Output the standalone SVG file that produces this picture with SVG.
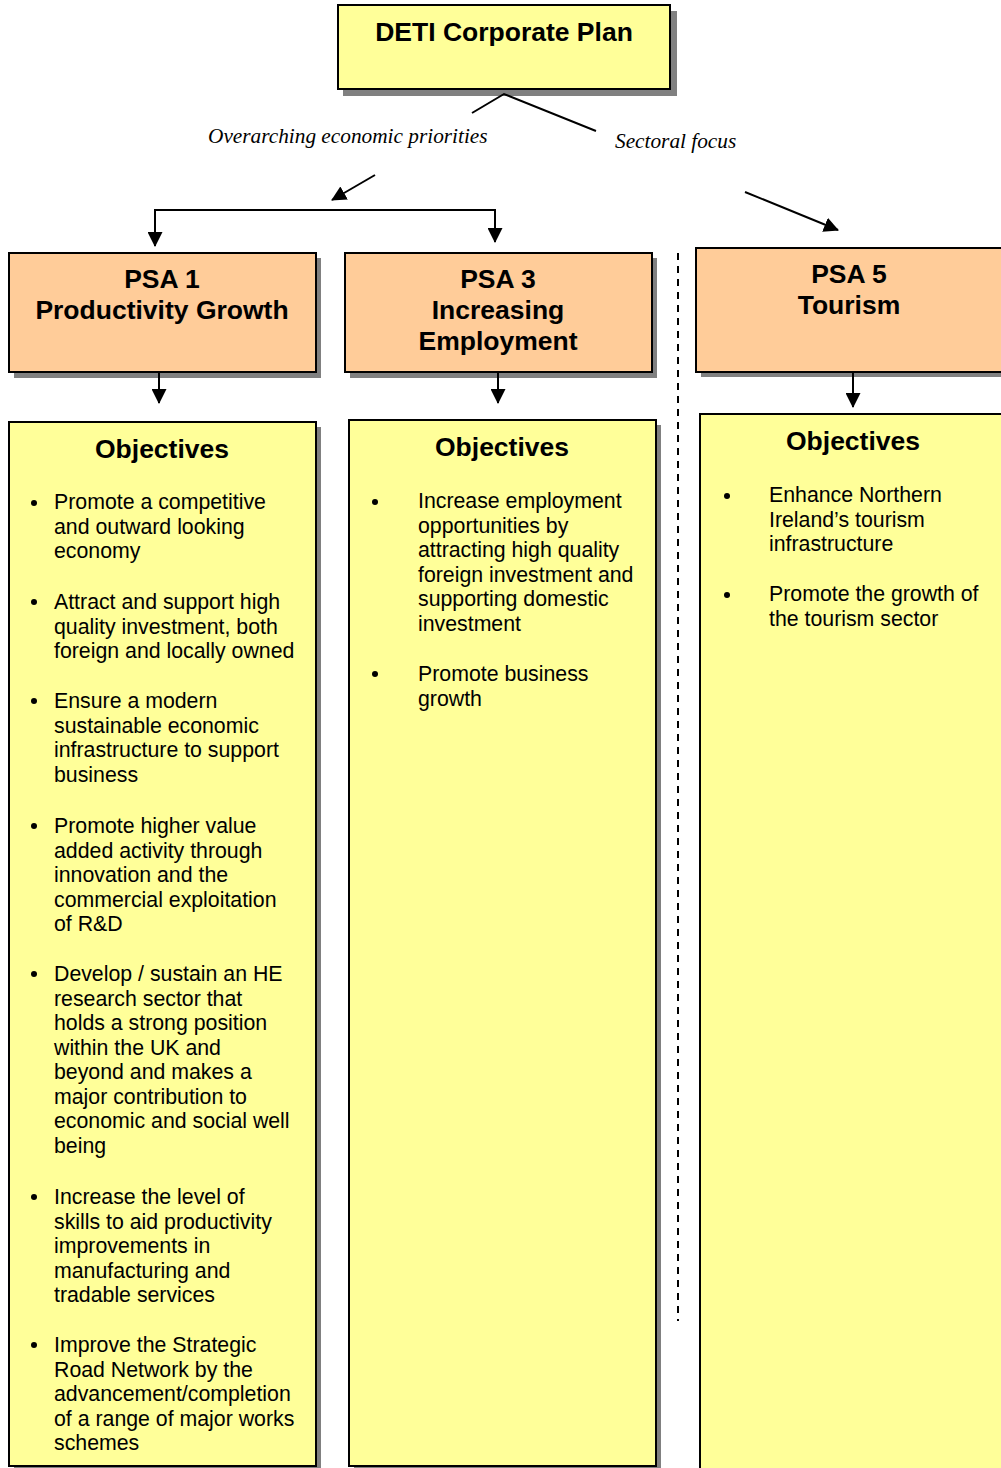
<svg xmlns="http://www.w3.org/2000/svg" width="1001" height="1468" viewBox="0 0 1001 1468">
<style>
.sh{fill:#808080}
.box{stroke:#000;stroke-width:2}
.y{fill:#FFFF99}
.o{fill:#FFCC99}
.t{font-family:"Liberation Sans",Arial,sans-serif;font-weight:bold;font-size:26.5px;text-anchor:middle;fill:#000}
.b{font-family:"Liberation Sans",Arial,sans-serif;font-size:21.3px;fill:#000}
.i{font-family:"Liberation Serif","Times New Roman",serif;font-style:italic;font-size:21.3px;fill:#000}
.ln{stroke:#000;stroke-width:2;fill:none}
.dot{fill:#000}
</style>
<defs>
<marker id="ah" markerWidth="15" markerHeight="15" refX="14" refY="7.5" orient="auto" markerUnits="userSpaceOnUse" viewBox="0 0 15 15">
<path d="M0,0 L15,7.5 L0,15 Z" fill="#000"/>
</marker>
</defs>
<rect width="1001" height="1468" fill="#fff"/>

<g id="deti">
<rect class="sh" x="343" y="11" width="334" height="85"/>
<rect class="box y" x="338" y="5" width="332" height="84"/>
<text class="t" x="504" y="41">DETI Corporate Plan</text>
</g>

<g id="label-overarching">
<text class="i" x="208" y="143">Overarching economic priorities</text>
</g>
<g id="label-sectoral">
<text class="i" x="615" y="148">Sectoral focus</text>
</g>

<g id="psa1">
<rect class="sh" x="14" y="258" width="307" height="120"/>
<rect class="box o" x="9" y="253" width="307" height="119"/>
<text class="t" x="162" y="288">PSA 1</text>
<text class="t" x="162" y="319">Productivity Growth</text>
</g>

<g id="psa3">
<rect class="sh" x="350" y="258" width="307" height="120"/>
<rect class="box o" x="345" y="253" width="307" height="119"/>
<text class="t" x="498" y="288">PSA 3</text>
<text class="t" x="498" y="319">Increasing</text>
<text class="t" x="498" y="350">Employment</text>
</g>

<g id="psa5">
<rect class="sh" x="701" y="253" width="320" height="124"/>
<rect class="box o" x="696" y="248" width="320" height="124"/>
<text class="t" x="849" y="283">PSA 5</text>
<text class="t" x="849" y="314">Tourism</text>
</g>

<g id="obj1">
<rect class="sh" x="14" y="427" width="307" height="1060"/>
<rect class="box y" x="9" y="422" width="307" height="1044"/>
<text class="t" x="162" y="458">Objectives</text>
<g class="b">
<circle class="dot" cx="34" cy="503" r="3"/>
<text x="54" y="509">Promote a competitive</text>
<text x="54" y="533.5">and outward looking</text>
<text x="54" y="558">economy</text>
<circle class="dot" cx="34" cy="602" r="3"/>
<text x="54" y="609">Attract and support high</text>
<text x="54" y="633.5">quality investment, both</text>
<text x="54" y="658">foreign and locally owned</text>
<circle class="dot" cx="34" cy="701" r="3"/>
<text x="54" y="708">Ensure a modern</text>
<text x="54" y="732.5">sustainable economic</text>
<text x="54" y="757">infrastructure to support</text>
<text x="54" y="781.5">business</text>
<circle class="dot" cx="34" cy="826" r="3"/>
<text x="54" y="833">Promote higher value</text>
<text x="54" y="857.5">added activity through</text>
<text x="54" y="882">innovation and the</text>
<text x="54" y="906.5">commercial exploitation</text>
<text x="54" y="931">of R&amp;D</text>
<circle class="dot" cx="34" cy="974" r="3"/>
<text x="54" y="981">Develop / sustain an HE</text>
<text x="54" y="1005.5">research sector that</text>
<text x="54" y="1030">holds a strong position</text>
<text x="54" y="1054.5">within the UK and</text>
<text x="54" y="1079">beyond and makes a</text>
<text x="54" y="1103.5">major contribution to</text>
<text x="54" y="1128">economic and social well</text>
<text x="54" y="1152.5">being</text>
<circle class="dot" cx="34" cy="1197" r="3"/>
<text x="54" y="1204">Increase the level of</text>
<text x="54" y="1228.5">skills to aid productivity</text>
<text x="54" y="1253">improvements in</text>
<text x="54" y="1277.5">manufacturing and</text>
<text x="54" y="1302">tradable services</text>
<circle class="dot" cx="34" cy="1345" r="3"/>
<text x="54" y="1352">Improve the Strategic</text>
<text x="54" y="1376.5">Road Network by the</text>
<text x="54" y="1401">advancement/completion</text>
<text x="54" y="1425.5">of a range of major works</text>
<text x="54" y="1450">schemes</text>
</g>
</g>

<g id="obj3">
<rect class="sh" x="354" y="425" width="307" height="1060"/>
<rect class="box y" x="349" y="420" width="307" height="1046"/>
<text class="t" x="502" y="456">Objectives</text>
<g class="b">
<circle class="dot" cx="375" cy="502" r="3"/>
<text x="418" y="508">Increase employment</text>
<text x="418" y="532.5">opportunities by</text>
<text x="418" y="557">attracting high quality</text>
<text x="418" y="581.5">foreign investment and</text>
<text x="418" y="606">supporting domestic</text>
<text x="418" y="630.5">investment</text>
<circle class="dot" cx="375" cy="674" r="3"/>
<text x="418" y="681">Promote business</text>
<text x="418" y="705.5">growth</text>
</g>
</g>

<g id="obj5">
<rect class="sh" x="705" y="419" width="320" height="1060"/>
<rect class="box y" x="700" y="414" width="320" height="1070"/>
<text class="t" x="853" y="450">Objectives</text>
<g class="b">
<circle class="dot" cx="727" cy="496" r="3"/>
<text x="769" y="502">Enhance Northern</text>
<text x="769" y="526.5">Ireland’s tourism</text>
<text x="769" y="551">infrastructure</text>
<circle class="dot" cx="727" cy="595" r="3"/>
<text x="769" y="601">Promote the growth of</text>
<text x="769" y="625.5">the tourism sector</text>
</g>
</g>

<g id="connectors">
<polyline class="ln" points="472,113 504,94 596,131"/>
<line class="ln" x1="375" y1="175" x2="332" y2="200" marker-end="url(#ah)"/>
<polyline class="ln" points="155,246 155,210 495,210 495,242" marker-end="url(#ah)"/>
<line class="ln" x1="155" y1="211" x2="155" y2="246" marker-end="url(#ah)"/>
<line class="ln" x1="745" y1="192" x2="838" y2="230" marker-end="url(#ah)"/>
<line class="ln" x1="159" y1="372" x2="159" y2="403" marker-end="url(#ah)"/>
<line class="ln" x1="498" y1="373" x2="498" y2="403" marker-end="url(#ah)"/>
<line class="ln" x1="853" y1="373" x2="853" y2="407" marker-end="url(#ah)"/>
<line class="ln" x1="678" y1="253" x2="678" y2="1321" stroke-dasharray="7 6"/>
</g>
</svg>
